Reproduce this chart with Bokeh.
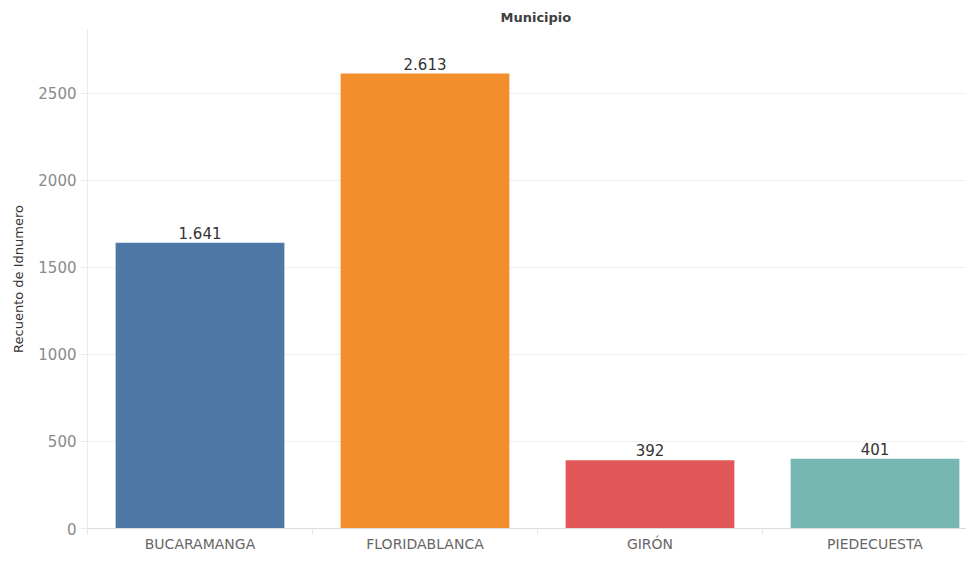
from bokeh.plotting import figure
from bokeh.models import ColumnDataSource, Range1d, FixedTicker
from bokeh.core.properties import value
from bokeh.embed import file_html
from bokeh.resources import INLINE

# ---- data ----
categories = ["BUCARAMANGA", "FLORIDABLANCA", "GIRÓN", "PIEDECUESTA"]
counts = [1641, 2613, 392, 401]
colors = ["#4E79A7", "#F28E2B", "#E15759", "#76B7B2"]
y_ticks = [0, 500, 1000, 1500, 2000, 2500]
title_text = "Municipio"
y_label = "Recuento de Idnumero"

FONT = "DejaVu Sans"
y_max = 2866
band_px = 225
W, H = 966, 554
left_border = 87
frame_w = W - left_border

positions = [i + 0.5 for i in range(len(categories))]
labels = [f"{v:,}".replace(",", ".") for v in counts]

src = ColumnDataSource(dict(x=positions, top=counts, color=colors, label=labels))

p = figure(width=W, height=H, output_backend="svg", toolbar_location=None,
           x_range=Range1d(0, frame_w / band_px), y_range=Range1d(0, y_max),
           min_border_left=left_border, min_border_right=0,
           min_border_top=29, min_border_bottom=24, title=title_text)
p.outline_line_color = None
p.background_fill_color = "white"
p.border_fill_color = "white"

p.title.align = "left"
p.title.offset = 413
p.title.text_font = FONT
p.title.text_font_size = "13px"
p.title.text_font_style = "bold"
p.title.text_color = "#404040"

p.vbar(x="x", top="top", width=0.75, bottom=0, color="color", source=src, line_color=None)
p.text(x="x", y="top", text="label", source=src, text_align="center", text_baseline="bottom",
       y_offset=-4, text_font=value(FONT), text_font_size="15px", text_color="#333333")

# x axis
p.xaxis.ticker = FixedTicker(ticks=positions, minor_ticks=list(range(len(categories) + 1)))
p.xaxis.major_label_overrides = {pos: c for pos, c in zip(positions, categories)}
p.xaxis.major_tick_line_color = None
p.xaxis.major_tick_in = 0
p.xaxis.major_tick_out = 0
p.xaxis.minor_tick_in = 0
p.xaxis.minor_tick_out = 6
p.xaxis.minor_tick_line_color = "#e6e6e6"
p.xaxis.axis_line_color = "#dcdcdc"
p.xaxis.major_label_standoff = 1
p.xaxis.major_label_text_font = FONT
p.xaxis.major_label_text_font_size = "14px"
p.xaxis.major_label_text_color = "#666666"

# y axis
p.yaxis.ticker = FixedTicker(ticks=y_ticks)
p.yaxis.minor_tick_line_color = None
p.yaxis.major_tick_in = 0
p.yaxis.major_tick_out = 7
p.yaxis.major_tick_line_color = "#ebebeb"
p.yaxis.axis_line_color = "#ebebeb"
p.yaxis.major_label_standoff = 4
p.yaxis.major_label_text_font = FONT
p.yaxis.major_label_text_font_size = "15px"
p.yaxis.major_label_text_color = "#8a8a8a"
p.yaxis.axis_label = y_label
p.yaxis.axis_label_text_font = FONT
p.yaxis.axis_label_text_font_style = "normal"
p.yaxis.axis_label_text_font_size = "13px"
p.yaxis.axis_label_text_color = "#333333"
p.yaxis.axis_label_standoff = 9

p.xgrid.grid_line_color = None
p.ygrid.grid_line_color = "#f0f0f0"
p.ygrid.ticker = FixedTicker(ticks=y_ticks)

open("out.html", "w").write(file_html(p, INLINE))
